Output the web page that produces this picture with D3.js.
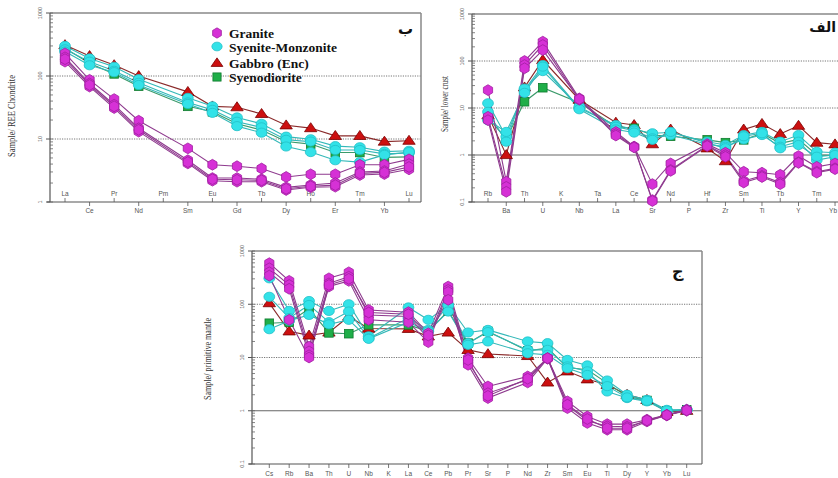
<!DOCTYPE html>
<html><head><meta charset="utf-8">
<script src="https://cdn.jsdelivr.net/npm/d3@7"></script>
<style>body{margin:0;background:#fff}svg{display:block}</style>
</head><body>
<svg id="c" width="838" height="478"></svg>
<script>
// ---------- DATA ----------
const reeElements = ["La","Ce","Pr","Nd","Pm","Sm","Eu","Gd","Tb","Dy","Ho","Er","Tm","Yb","Lu"];
const reeGranite = [
  [229,87,43,19.5,null,7.1,3.9,3.7,3.4,2.5,2.75,2.75,3.9,3.9,4.75],
  [198,76,35,14.8,null,4.6,2.4,2.4,2.3,1.71,1.86,2.0,3.0,3.1,4.0],
  [169,68,31,13.1,null,4.1,2.18,2.1,2.1,1.55,1.71,1.75,2.68,2.78,3.3],
  [185,72,33,14,null,4.3,2.3,2.25,2.2,1.62,1.78,1.85,2.85,2.95,3.6]
];
const reeSyeniteMonzonite = [
  [300,190,140,89,null,45,33,22,17.4,10.9,9.9,7.7,7.4,6.3,6.5],
  [265,169,121,78,null,38,29,18.8,15.3,9.7,9.1,6.7,6.7,5.8,6.0],
  [245,148,115,72,null,36,26,16,12.6,7.6,6.2,4.6,4.3,5.6,6.2]
];
const reeGabbro = [[310,208,149,100,null,56,33,32,25,16.5,14.9,11.2,11.2,9.1,9.4]];
const reeSyenodiorite = [[275,159,108,69,null,33,27,17.4,13.9,9.1,8.3,6.1,6.1,5.1,5.2]];

const lcElements = ["Rb","Ba","Th","U","K","Nb","Ta","La","Ce","Sr","Nd","P","Hf","Zr","Sm","Ti","Tb","Y","Tm","Yb","Lu"];
const lcGranite = [
  [24,0.27,100,258,null,16,null,3.1,1.5,0.24,0.66,null,1.7,1.12,0.44,0.42,0.38,0.95,0.56,0.66,null],
  [6.5,0.21,82,219,null,15,null,2.8,1.5,0.11,0.48,null,1.6,1.0,0.28,0.36,0.26,0.7,0.44,0.52,null],
  [5.5,0.165,70,171,null,15.5,null,2.6,1.45,0.105,0.46,null,1.55,0.92,0.26,0.34,0.24,0.68,0.42,0.5,null]
];
const lcSyeniteMonzonite = [
  [12.6,2.45,24,82,null,9.9,null,4.35,3.5,2.9,3.0,null,1.92,1.63,2.66,3.1,1.92,2.66,1.17,1.12,null],
  [8.3,1.92,26,61,null,10.7,null,4.0,3.3,2.26,2.66,null,1.7,1.5,2.15,2.66,1.5,1.92,0.78,0.92,null],
  [5.5,3.1,21,76,null,9.4,null,3.5,3.0,2.1,3.1,null,1.8,1.39,2.5,2.9,1.39,1.63,0.92,1.0,null]
];
const lcGabbro = [[7,1.0,27.5,105,null,15,null,4.9,4.35,1.7,3.5,null,1.39,0.74,3.5,4.6,2.8,4.2,1.83,1.69,null]];
const lcSyenodiorite = [[6.2,2.2,13.6,27,null,13,null,4.0,3.7,2.66,2.5,null,2.1,1.83,2.1,2.9,1.77,2.15,1.0,0.97,null]];

const pmElements = ["Cs","Rb","Ba","Th","U","Nb","K","La","Ce","Pb","Pr","Sr","P","Nd","Zr","Sm","Eu","Ti","Dy","Y","Yb","Lu"];
const pmGranite = [
  [590,275,16,307,398,78,null,71,28.5,215,9.7,2.86,null,4.4,9.7,1.5,0.78,0.56,0.56,0.68,0.84,1.05],
  [473,230,13,247,330,63,null,59,23,186,8.2,2.14,null,3.8,9.7,1.26,0.65,0.51,0.5,0.65,0.82,1.03],
  [398,195,11,215,275,51,null,46,19.4,170,7.3,1.73,null,3.4,9.5,1.12,0.59,0.44,0.44,0.63,0.82,1.0],
  [345,51,10,230,300,70,null,65,26,121,9,1.9,null,4,9.7,1.3,0.7,0.47,0.47,0.66,0.83,1.02]
];
const pmSyeniteMonzonite = [
  [307,75,115,75,100,25,null,87,51,97,29.5,33,null,20,18.6,9.0,7.1,3.7,2.0,1.6,1.04,1.04],
  [138,55,97,46,73,23,null,55,33,95,18.6,30,null,13.9,13.9,6.8,5.5,2.3,1.73,1.5,0.97,1.05],
  [34,49,63,42,51,22.4,null,46,31,73,17.3,20,null,12,11.2,6.3,4.7,2.9,1.78,1.54,1.01,1.04]
];
const pmGabbro = [[105,31,26,29.5,59,35,null,34.5,25,29.5,13.9,11.6,null,10.7,3.4,5.5,3.9,3.07,2.0,1.6,0.95,1.0]];
const pmSyenodiorite = [[44,46,82,29,28,41,null,41,31,75,18.6,31,null,13.3,15,6.5,5.9,3.3,1.86,1.56,1.0,1.04]];

const legendLabels = ["Granite","Syenite-Monzonite","Gabbro (Enc)","Syenodiorite"];
const yTickLabels = ["0.1","1","10","100","1000"];

// ---------- STYLE ----------
const sty = {
  granite:{fill:"#d631d6",stroke:"#a020a0",line:"#8e3a8e"},
  syen:{fill:"#33e2e8",stroke:"#22c0c8",line:"#33b8b8"},
  gabbro:{fill:"#cc1010",stroke:"#7a0000",line:"#8a2a2a"},
  syeno:{fill:"#1fae48",stroke:"#0f7a2f",line:"#3a9a6a"}
};

const svg = d3.select("#c");

function marker(g, kind, x, y, s){
  s = s || 1;
  if(kind==="granite"){
    const r=5.4*s, w=4.6*s;
    g.append("path").attr("d",`M${x},${y-r}L${x+w},${y-r/2}L${x+w},${y+r/2}L${x},${y+r}L${x-w},${y+r/2}L${x-w},${y-r/2}Z`)
     .attr("fill",sty.granite.fill).attr("stroke",sty.granite.stroke).attr("stroke-width",0.8);
  } else if(kind==="syen"){
    g.append("ellipse").attr("cx",x).attr("cy",y).attr("rx",5.4*s).attr("ry",4.6*s)
     .attr("fill",sty.syen.fill).attr("stroke",sty.syen.stroke).attr("stroke-width",0.8);
  } else if(kind==="gabbro"){
    const h=9*s, w=6.2*s;
    g.append("path").attr("d",`M${x},${y-h*0.6}L${x+w},${y+h*0.4}L${x-w},${y+h*0.4}Z`)
     .attr("fill",sty.gabbro.fill).attr("stroke",sty.gabbro.stroke).attr("stroke-width",0.8);
  } else {
    const a=4.3*s;
    g.append("rect").attr("x",x-a).attr("y",y-a).attr("width",2*a).attr("height",2*a)
     .attr("fill",sty.syeno.fill).attr("stroke",sty.syeno.stroke).attr("stroke-width",0.8);
  }
}

function panel(cfg){
  const g = svg.append("g");
  const x = d3.scalePoint().domain(cfg.cats).range(cfg.xr);
  const y = d3.scaleLog().domain(cfg.yd).range(cfg.yr);
  const [x0,x1] = cfg.frame;
  const yb = y(cfg.yd[0]), yt = y(cfg.yd[1]);

  const dec = d3.range(Math.log10(cfg.yd[0]), Math.log10(cfg.yd[1])+1).map(e=>Math.pow(10,e));
  dec.forEach(v=>{
    if(v===cfg.yd[0]||v===cfg.yd[1]) return;
    if(v===1) g.append("line").attr("x1",x0).attr("x2",x1).attr("y1",y(v)).attr("y2",y(v)).attr("stroke","#666").attr("stroke-width",1.2);
    else g.append("line").attr("x1",x0).attr("x2",x1).attr("y1",y(v)).attr("y2",y(v)).attr("stroke","#777").attr("stroke-width",1).attr("stroke-dasharray","1.2,1.2");
  });
  g.append("line").attr("x1",x0).attr("x2",x1).attr("y1",yt).attr("y2",yt).attr("stroke","#888").attr("stroke-width",1.5);
  if(cfg.rightBorder) g.append("line").attr("x1",x1).attr("x2",x1).attr("y1",yt).attr("y2",yb).attr("stroke","#888").attr("stroke-width",1.5);
  g.append("line").attr("x1",x0).attr("x2",x0).attr("y1",yt).attr("y2",yb).attr("stroke","#555").attr("stroke-width",1.2);
  g.append("line").attr("x1",x0-3).attr("x2",x1).attr("y1",yb).attr("y2",yb).attr("stroke","#555").attr("stroke-width",1.2);

  y.ticks().forEach(v=>{
    g.append("line").attr("x1",x0).attr("x2",x0+3).attr("y1",y(v)).attr("y2",y(v)).attr("stroke","#666").attr("stroke-width",0.8);
  });
  dec.forEach(v=>{
    g.append("line").attr("x1",x0-4).attr("x2",x0).attr("y1",y(v)).attr("y2",y(v)).attr("stroke","#555").attr("stroke-width",1);
    const lab = yTickLabels[Math.round(Math.log10(v))+1];
    g.append("text").attr("transform",`translate(${x0-8},${y(v)}) rotate(-90)`).attr("text-anchor","middle")
     .attr("font-family","Liberation Sans").attr("font-size",5.5).attr("fill","#555").text(lab);
  });

  cfg.cats.forEach((c,i)=>{
    const xx = x(c);
    if(xx > 845) return;
    const up = cfg.alternate && i%2===0;
    const anchor = xx > 828 ? "end" : "middle";
    const tx = xx > 828 ? 837 : xx;
    if(up){
      g.append("line").attr("x1",xx).attr("x2",xx).attr("y1",yb).attr("y2",yb-4).attr("stroke","#555").attr("stroke-width",0.8);
      g.append("text").attr("x",tx).attr("y",yb-6).attr("text-anchor",anchor).attr("font-family","Liberation Sans").attr("font-size",6.5).attr("fill","#555").text(c);
    } else {
      g.append("line").attr("x1",xx).attr("x2",xx).attr("y1",yb).attr("y2",yb+4).attr("stroke","#555").attr("stroke-width",0.8);
      g.append("text").attr("x",tx).attr("y",yb+cfg.lblOff).attr("text-anchor",anchor).attr("font-family","Liberation Sans").attr("font-size",6.5).attr("fill","#555").text(c);
    }
  });

  g.append("text").attr("transform",`translate(${cfg.title.x},${cfg.title.y}) rotate(-90)`).attr("text-anchor","middle")
   .attr("font-family","Liberation Serif").attr("font-size",11).attr("fill","#333")
   .attr("textLength",cfg.title.len).attr("lengthAdjust","spacingAndGlyphs").text(cfg.title.text);

  const line = d3.line().x(d=>x(d.c)).y(d=>y(d.v));
  const groups = [["gabbro",cfg.gabbro],["syeno",cfg.syeno],["syen",cfg.syen],["granite",cfg.granite]];
  groups.forEach(([k,arr])=>{
    arr.forEach(s=>{
      const pts = s.map((v,i)=>({c:cfg.cats[i],v})).filter(d=>d.v!=null);
      g.append("path").attr("d",line(pts)).attr("fill","none").attr("stroke",sty[k].line).attr("stroke-width",1.1);
    });
  });
  groups.forEach(([k,arr])=>{
    arr.forEach(s=>{
      s.forEach((v,i)=>{ if(v!=null) marker(g,k,x(cfg.cats[i]),y(v)); });
    });
  });

  g.append("text").attr("x",cfg.letter.x).attr("y",cfg.letter.y).attr("text-anchor",cfg.letter.anchor||"start")
   .attr("font-family","DejaVu Sans").attr("font-weight","bold")
   .attr("font-size",cfg.letter.size).attr("fill","#111").text(cfg.letter.t);
  return g;
}

panel({cats:reeElements, xr:[65,409], yd:[1,1000], yr:[202,13], frame:[50,421], rightBorder:true, alternate:true, lblOff:11,
  granite:reeGranite, syen:reeSyeniteMonzonite, gabbro:reeGabbro, syeno:reeSyenodiorite,
  title:{x:15,y:116,len:82,text:"Sample/ REE Chondrite"}, letter:{x:398,y:34,size:15,t:"ب"}});

panel({cats:lcElements, xr:[488,853.3], yd:[0.1,1000], yr:[202,14], frame:[472,840], rightBorder:false, alternate:true, lblOff:11,
  granite:lcGranite, syen:lcSyeniteMonzonite, gabbro:lcGabbro, syeno:lcSyenodiorite,
  title:{x:448,y:104,len:56,text:"Sample/ lower crust"}, letter:{x:836,y:32,size:14,t:"الف",anchor:"end"}});

panel({cats:pmElements, xr:[269.3,686.7], yd:[0.1,1000], yr:[464,251], frame:[252,702], rightBorder:true, alternate:false, lblOff:12,
  granite:pmGranite, syen:pmSyeniteMonzonite, gabbro:pmGabbro, syeno:pmSyenodiorite,
  title:{x:211,y:359,len:82,text:"Sample/ primitive mantle"}, letter:{x:672,y:277,size:16,t:"ج"}});

const lg = svg.append("g");
const legY = [34,47.5,64,78];
const legKinds = ["granite","syen","gabbro","syeno"];
legendLabels.forEach((t,i)=>{
  marker(lg, legKinds[i], 217, legY[i]-1, 0.95);
  lg.append("text").attr("x",229).attr("y",legY[i]+4).attr("font-family","Liberation Serif").attr("font-weight","bold")
   .attr("font-size",13.5).attr("fill","#111").text(t);
});
</script>
</body></html>
